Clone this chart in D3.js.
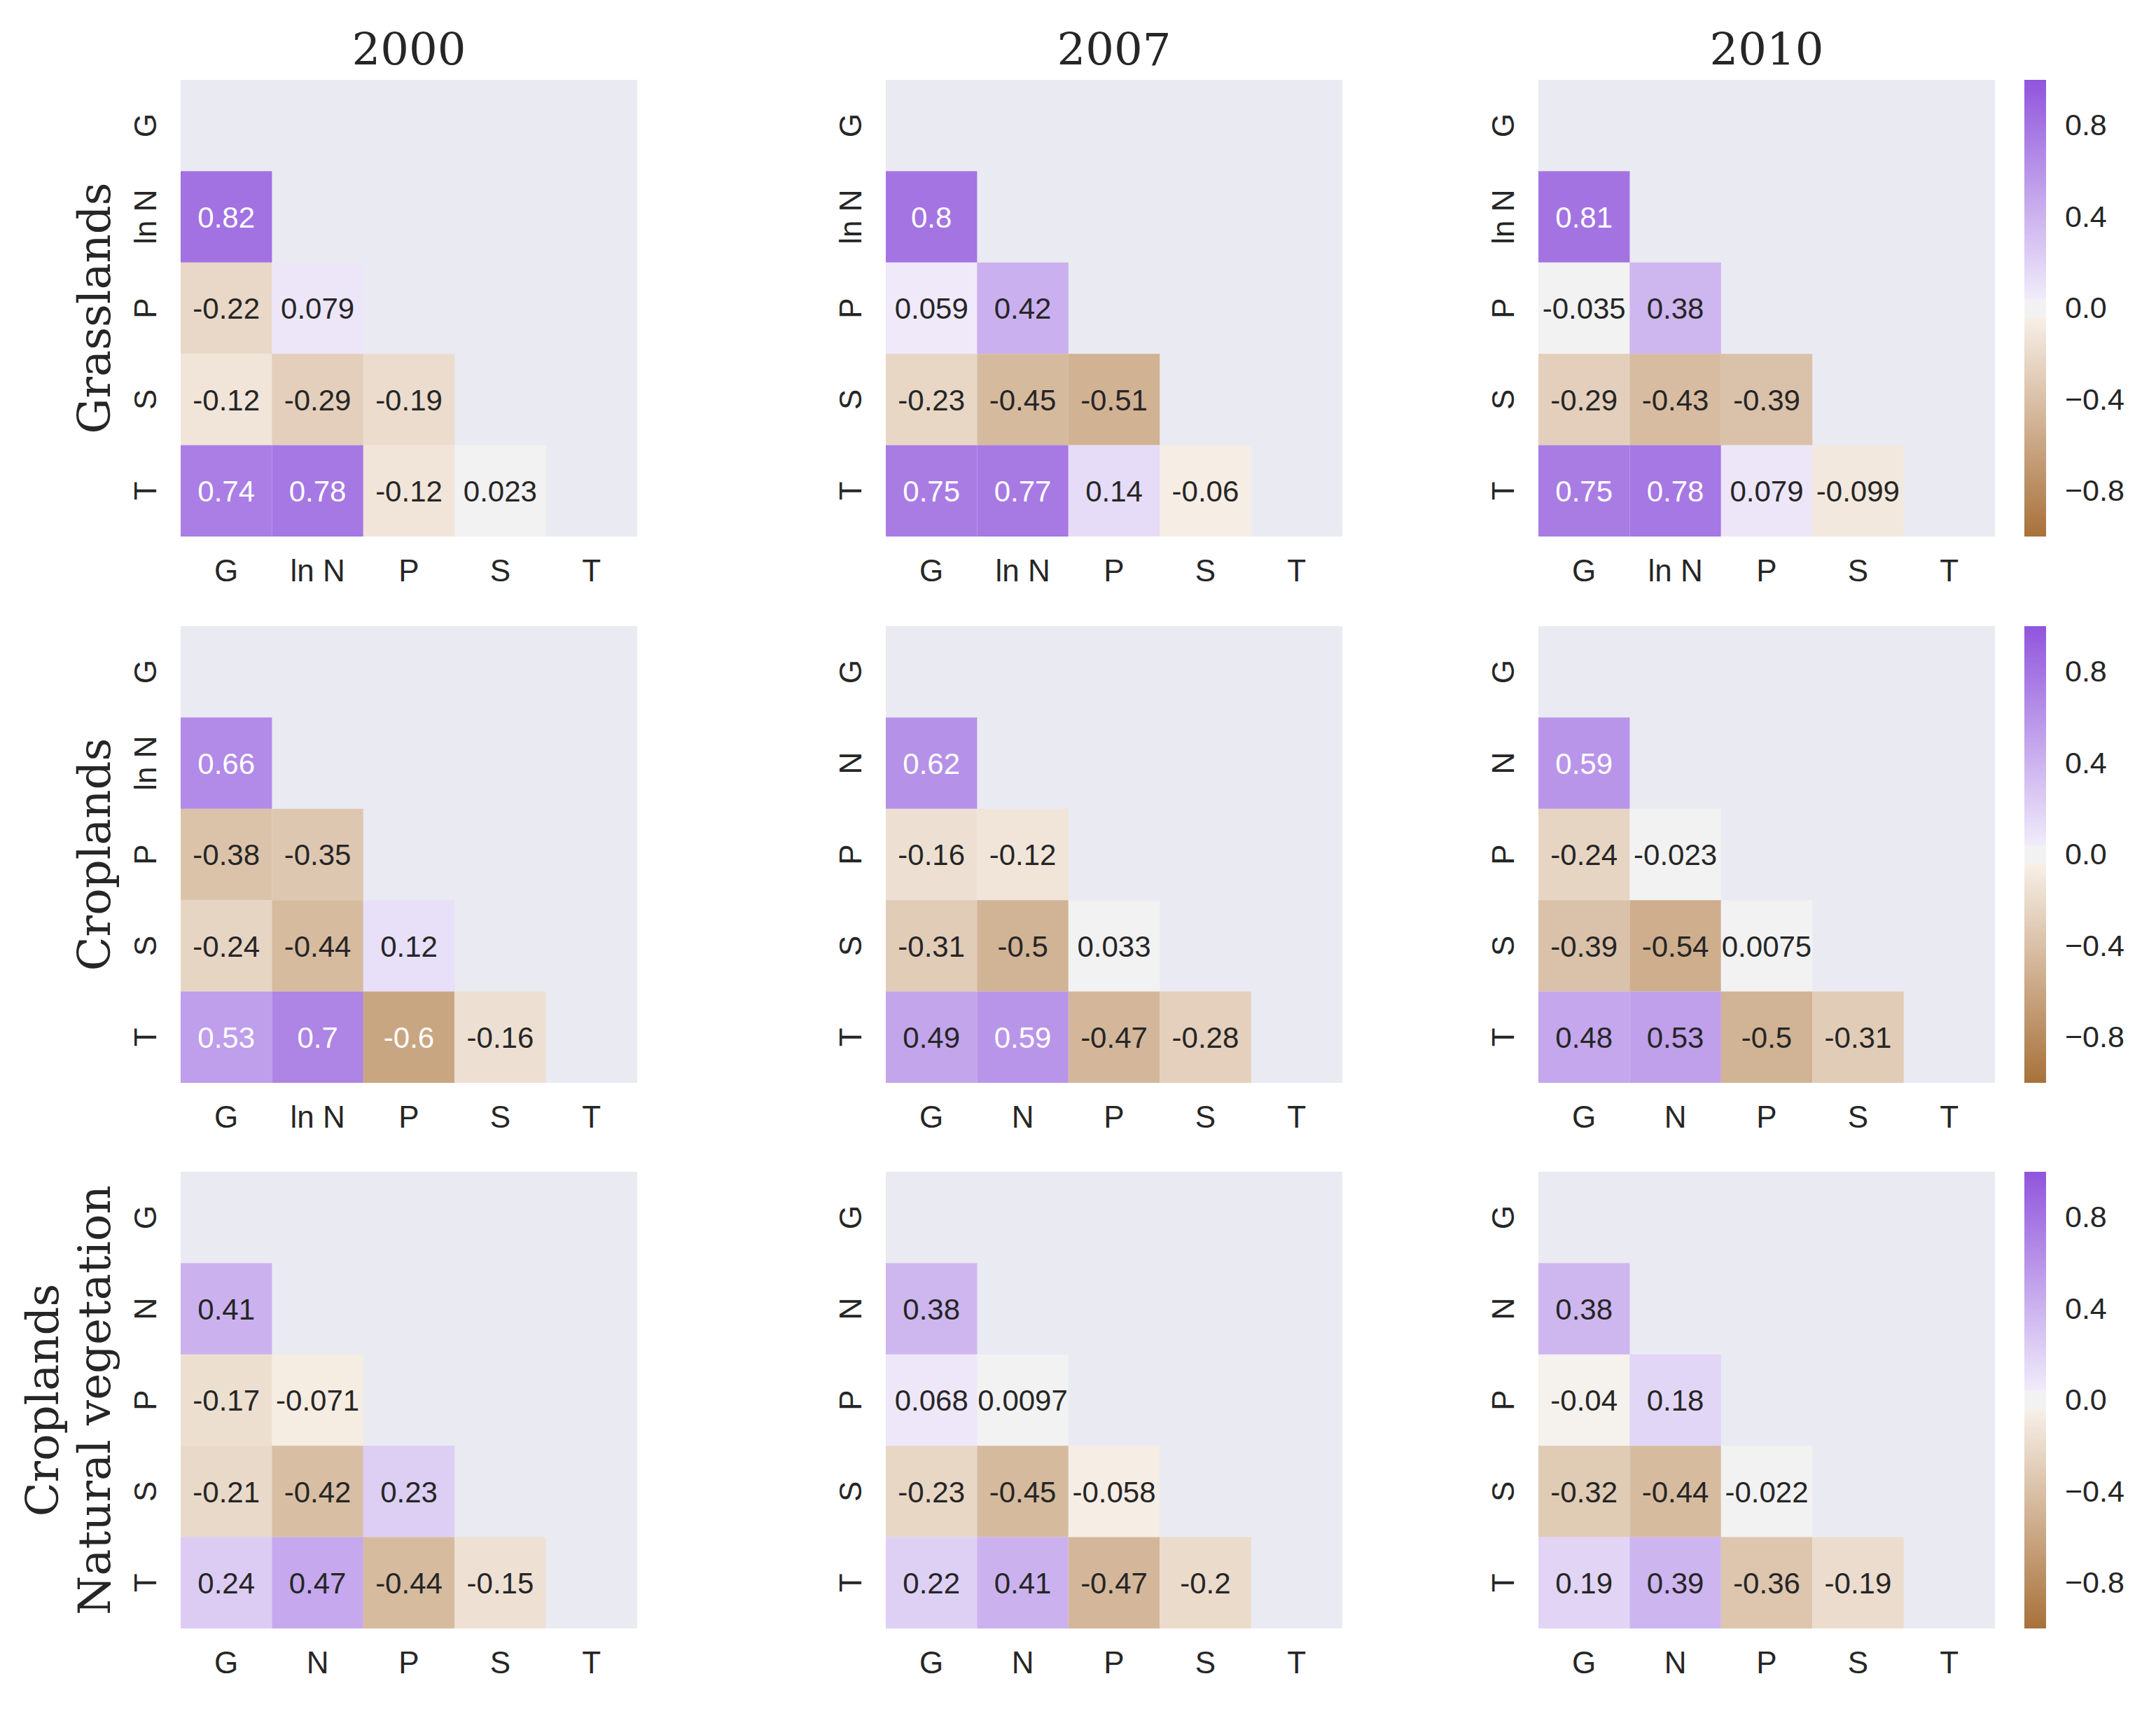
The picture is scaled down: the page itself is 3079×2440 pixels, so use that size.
<!DOCTYPE html>
<html>
<head>
<meta charset="utf-8">
<script src="https://cdn.jsdelivr.net/npm/d3@7"></script>
<style>
    body { margin: 0; background: #ffffff; }
</style>
</head>
<body>
<script>
'use strict';

const years = ['2000', '2007', '2010']
const rowTitles = [['Grasslands'], ['Croplands'], ['Croplands', 'Natural vegetation']]
const varsLnN = ['G', 'ln N', 'P', 'S', 'T']
const varsN = ['G', 'N', 'P', 'S', 'T']
const colorbarTicks = [0.8, 0.4, 0.0, -0.4, -0.8]

// lower triangle only, one list per row below the diagonal
const grass2000 = [[0.82], [-0.22, 0.079], [-0.12, -0.29, -0.19], [0.74, 0.78, -0.12, 0.023]]
const grass2007 = [[0.8], [0.059, 0.42], [-0.23, -0.45, -0.51], [0.75, 0.77, 0.14, -0.06]]
const grass2010 = [[0.81], [-0.035, 0.38], [-0.29, -0.43, -0.39], [0.75, 0.78, 0.079, -0.099]]
const crop2000 = [[0.66], [-0.38, -0.35], [-0.24, -0.44, 0.12], [0.534, 0.7, -0.6, -0.16]]
const crop2007 = [[0.62], [-0.16, -0.12], [-0.31, -0.5, 0.033], [0.49, 0.59, -0.47, -0.28]]
const crop2010 = [[0.59], [-0.24, -0.023], [-0.39, -0.54, 0.0075], [0.48, 0.526, -0.5, -0.31]]
const natural2000 = [[0.41], [-0.17, -0.071], [-0.21, -0.42, 0.23], [0.24, 0.47, -0.44, -0.15]]
const natural2007 = [[0.38], [0.068, 0.0097], [-0.23, -0.45, -0.058], [0.22, 0.41, -0.47, -0.2]]
const natural2010 = [[0.38], [-0.04, 0.18], [-0.32, -0.44, -0.022], [0.19, 0.39, -0.36, -0.19]]

const panelValues = [
    [grass2000, grass2007, grass2010],
    [crop2000, crop2007, crop2010],
    [natural2000, natural2007, natural2010]
]
const panelVars = [
    [varsLnN, varsLnN, varsLnN],
    [varsLnN, varsN, varsN],
    [varsN, varsN, varsN]
]

const largura = 3079
const altura = 2440
const panelLeft = [258, 1265, 2197]
const panelTop = [114, 894, 1673]
const panelSize = 652
const colorbarX = 2891
const colorbarW = 31
const textDark = '#262626'

// diverging palette with a flat gray band around zero
const color = d3.scaleLinear()
    .domain([-1, -0.045, -0.035, 0.035, 0.045, 1])
    .range(['#a8713a', '#f7efe7', '#f2f2f2', '#f2f2f2', '#f0ebfa', '#9055dc'])
    .interpolate(d3.interpolateRgb)

const formatCell = (v) => d3.format('.2~g')(v).replace('\u2212', '-')
const textColor = (v) => (v > 0.53 || v < -0.57) ? '#ffffff' : textDark

const svg = d3.select('body').append('svg')
    .attr('width', largura)
    .attr('height', altura)
    .style('display', 'block')

svg.append('rect')
    .attr('width', largura)
    .attr('height', altura)
    .attr('fill', '#ffffff')

class Heatmap {
    constructor (row, col) {
        this.values = panelValues[row][col]
        this.vars = panelVars[row][col]
        this.g = svg.append('g')
            .attr('transform', `translate(${panelLeft[col]}, ${panelTop[row]})`)

        this.x = d3.scaleBand().domain(this.vars).range([0, panelSize])
        this.y = d3.scaleBand().domain(this.vars).range([0, panelSize])

        this.cells = []
        this.values.forEach((linha, i) => {
            linha.forEach((v, j) => {
                this.cells.push({row: this.vars[i + 1], col: this.vars[j], v: v})
            })
        })

        this.fundo()
        this.preenche()
        this.eixos()
    }

    fundo() {
        this.g.append('rect')
            .attr('width', panelSize)
            .attr('height', panelSize)
            .attr('fill', '#eaeaf2')
    }

    preenche() {
        this.g.selectAll('rect.cell').data(this.cells).enter().append('rect')
            .attr('class', 'cell')
            .attr('x', (d) => this.x(d.col))
            .attr('y', (d) => this.y(d.row))
            .attr('width', this.x.bandwidth())
            .attr('height', this.y.bandwidth())
            .attr('fill', (d) => color(d.v))

        this.g.selectAll('text.annot').data(this.cells).enter().append('text')
            .attr('class', 'annot')
            .attr('x', (d) => this.x(d.col) + this.x.bandwidth() / 2)
            .attr('y', (d) => this.y(d.row) + this.y.bandwidth() / 2)
            .attr('dy', '0.36em')
            .attr('text-anchor', 'middle')
            .style('font-family', '"Liberation Sans", Arial, sans-serif')
            .style('font-size', '42px')
            .attr('fill', (d) => textColor(d.v))
            .text((d) => formatCell(d.v))
    }

    eixos() {
        let eixoX = this.g.append('g')
            .attr('transform', `translate(0, ${panelSize})`)
            .call(d3.axisBottom(this.x).tickSize(0))
        eixoX.select('.domain').remove()
        eixoX.selectAll('text')
            .attr('y', 48)
            .attr('dy', '0.36em')
            .attr('fill', textDark)
            .style('font-family', '"Liberation Sans", Arial, sans-serif')
            .style('font-size', '44px')

        let eixoY = this.g.append('g')
            .call(d3.axisLeft(this.y).tickSize(0))
        eixoY.select('.domain').remove()
        eixoY.selectAll('text')
            .attr('x', 0)
            .attr('dy', '0.36em')
            .attr('text-anchor', 'middle')
            .attr('transform', 'translate(-51, 0) rotate(-90)')
            .attr('fill', textDark)
            .style('font-family', '"Liberation Sans", Arial, sans-serif')
            .style('font-size', '44px')
    }
}

function colorbar(row) {
    let escala = d3.scaleLinear().domain([-1, 1]).range([panelTop[row] + panelSize, panelTop[row]])

    let grad = svg.append('defs').append('linearGradient')
        .attr('id', `cbar${row}`)
        .attr('x1', 0).attr('y1', 1).attr('x2', 0).attr('y2', 0)
    grad.selectAll('stop').data(d3.range(-1, 1.0001, 0.005)).enter().append('stop')
        .attr('offset', (d) => (d + 1) / 2)
        .attr('stop-color', (d) => color(d))

    svg.append('rect')
        .attr('x', colorbarX)
        .attr('y', panelTop[row])
        .attr('width', colorbarW)
        .attr('height', panelSize)
        .attr('fill', `url(#cbar${row})`)

    let eixo = svg.append('g')
        .attr('transform', `translate(${colorbarX + colorbarW}, 0)`)
        .call(d3.axisRight(escala).tickValues(colorbarTicks).tickFormat(d3.format('.1f')).tickSize(0).tickPadding(27))
    eixo.select('.domain').remove()
    eixo.selectAll('text')
        .attr('fill', textDark)
        .style('font-family', '"Liberation Sans", Arial, sans-serif')
        .style('font-size', '43px')
}

years.forEach((ano, col) => {
    svg.append('text')
        .attr('x', panelLeft[col] + panelSize / 2)
        .attr('y', panelTop[0] - 21)
        .attr('text-anchor', 'middle')
        .attr('fill', textDark)
        .style('font-family', '"DejaVu Serif", serif')
        .style('font-size', '64px')
        .text(ano)
})

rowTitles.forEach((linhas, row) => {
    let cy = panelTop[row] + panelSize / 2
    linhas.forEach((texto, i) => {
        let bx = 157 - (linhas.length - 1 - i) * 74
        svg.append('text')
            .attr('transform', `translate(${bx}, ${cy}) rotate(-90)`)
            .attr('text-anchor', 'middle')
            .attr('fill', textDark)
            .style('font-family', '"DejaVu Serif", serif')
            .style('font-size', '64px')
            .text(texto)
    })
    for (let col = 0; col < 3; col++) {
        new Heatmap(row, col)
    }
    colorbar(row)
})
</script>
</body>
</html>
